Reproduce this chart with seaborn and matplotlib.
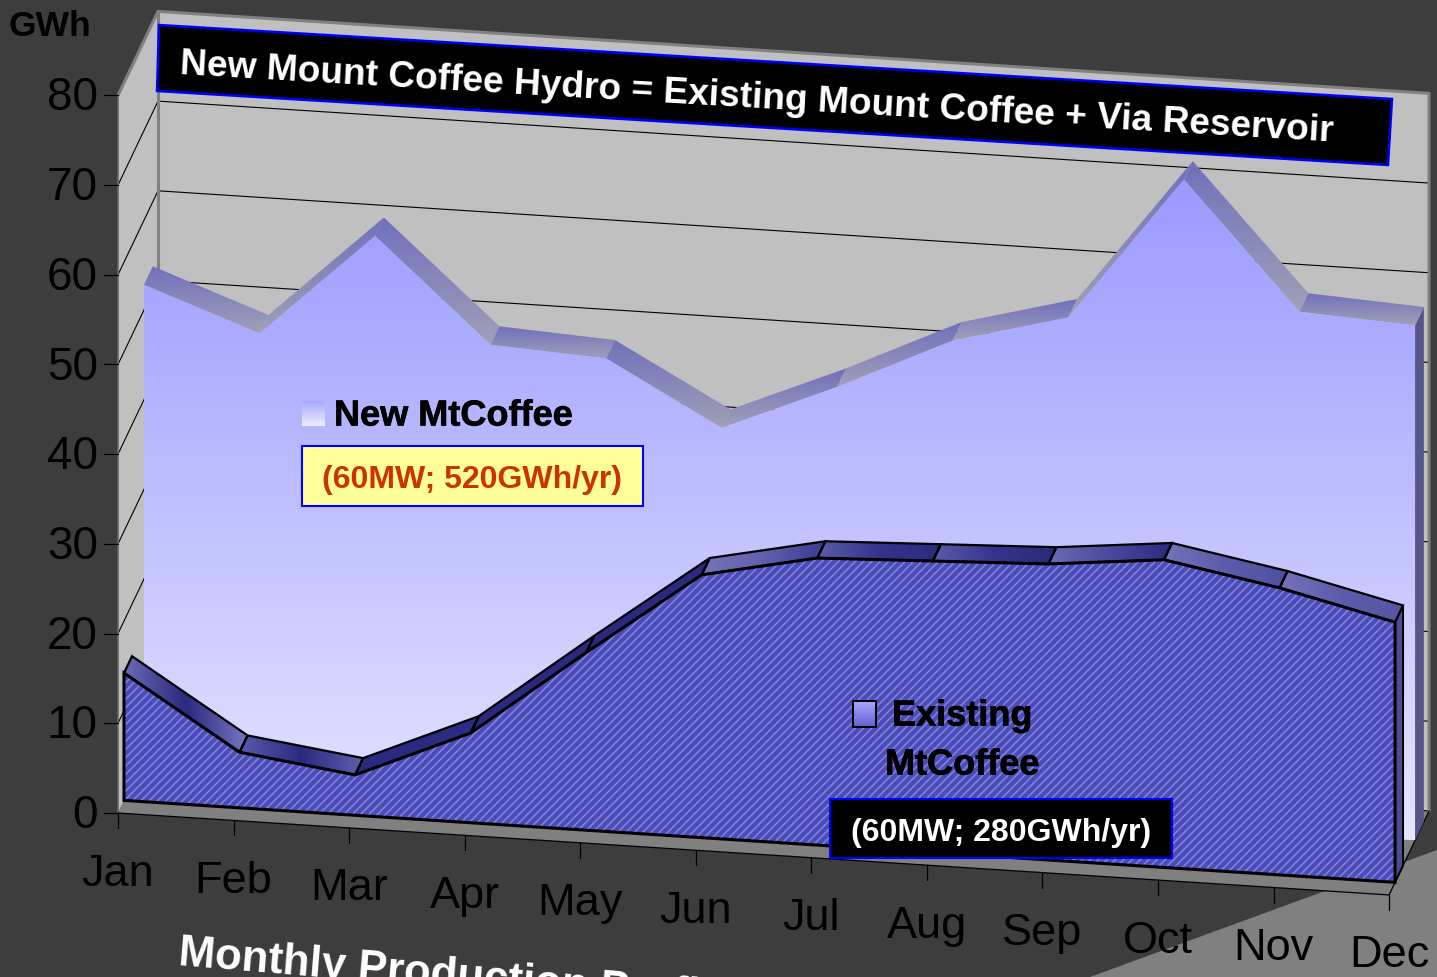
import matplotlib
matplotlib.use('Agg')
import matplotlib.pyplot as plt
import matplotlib.patheffects as pe
import numpy as np
import seaborn as sns
from matplotlib.colors import LinearSegmentedColormap
from matplotlib.patches import Polygon


MESES = ['Jan', 'Feb', 'Mar', 'Apr', 'May', 'Jun', 'Jul', 'Aug', 'Sep', 'Oct', 'Nov', 'Dec']
NUEVA = [52.8, 48.2, 59.9, 48.6, 47.9, 41.0, 46.4, 52.4, 55.8, 72.0, 58.1, 57.4]
EXISTENTE = [14.2, 6.2, 4.5, 10.0, 19.8, 29.3, 32.0, 32.5, 33.0, 34.3, 32.0, 29.0]
TICKS_Y = [0, 10, 20, 30, 40, 50, 60, 70, 80]

# profundidad de cada serie dentro de la caja 3D (0 = frente, 1 = fondo)
PROF_NUEVA = (0.65, 0.87)
PROF_EXISTENTE = (0.15, 0.35)

FONDO = '#3d3d3d'
GRIS_PARED = '#c0c0c0'
GRIS_PISO = '#808080'

# gradiente de cada tramo de la cara superior de Existing (izq -> centro -> der)
TRAMOS_EXISTENTE = [
    ('#6a6ab8', '#2a2a7e', '#7676c0'), ('#5a5aaa', '#2a2a80', '#6060b0'),
    ('#2a2a80', '#2a2a80', '#2e2e88'), ('#2a2a80', '#2a2a80', '#2a2a80'),
    ('#2a2a80', '#2a2a80', '#2a2a80'), ('#7474bc', '#6060ac', '#3a3a90'),
    ('#5c5ca8', '#34348c', '#2a2a80'), ('#5c5ca8', '#34348c', '#2a2a78'),
    ('#6a6ab4', '#4a4a9c', '#2a2a80'), ('#7272ba', '#5c5cac', '#5050a0'),
    ('#7272ba', '#5c5cac', '#5555a4'),
]


def proyectar(mes, valor, prof):
    """Pasa mes, GWh y profundidad a pixeles de la figura."""
    mes = np.asarray(mes, dtype=float)
    valor = np.asarray(valor, dtype=float)
    prof = np.asarray(prof, dtype=float)
    px = 118 + 115.55 * mes + 40 * prof
    py = 813 + 7.45 * mes - 8.97 * valor - 84 * prof
    return px, py


def cara(mes, valor, prof):
    """Vertices (x, y) de un contorno del modelo 3D."""
    px, py = proyectar(mes, valor, prof)
    return np.column_stack([px, py])


def relleno_gradiente(ax, vertices, colores, vertical=True, zorder=2):
    """Rellena un poligono con un gradiente recortado a su forma."""
    parche = Polygon(vertices, closed=True, transform=ax.transData, facecolor='none', edgecolor='none')
    ax.add_patch(parche)
    cmap = LinearSegmentedColormap.from_list('g', colores)
    rampa = np.linspace(0, 1, 256)
    rampa = rampa[:, None] if vertical else rampa[None, :]
    x0, y0 = vertices.min(axis=0)
    x1, y1 = vertices.max(axis=0)
    img = ax.imshow(rampa, cmap=cmap, extent=(x0, x1, y1, y0), origin='upper', aspect='auto',
                    zorder=zorder, interpolation='bilinear')
    img.set_clip_path(parche)


def linea(ax, x, y, color='black', lw=1.0, zorder=3):
    sns.lineplot(x=np.asarray(x), y=np.asarray(y), color=color, linewidth=lw, ax=ax, estimator=None,
                 sort=False, legend=False, zorder=zorder, errorbar=None)


def caja_3d(ax):
    """Paredes, piso, rejilla y marcas de los ejes."""
    n = len(MESES) - 1
    tope = TICKS_Y[-1]
    pared = np.vstack([cara([0, 0], [0, tope], 0), cara([0, 0], [tope, 0], 1)])
    fondo = np.vstack([cara([0, 0], [0, tope], 1), cara([n, n], [tope, 0], 1)])
    piso = np.vstack([cara([0, n], [0, 0], 0), cara([n, 0], [0, 0], 1)])
    ax.fill(*pared.T, color=GRIS_PARED, lw=0, zorder=1)
    ax.fill(*fondo.T, color=GRIS_PARED, lw=0, zorder=1)
    ax.fill(*piso.T, color=GRIS_PISO, lw=0, zorder=1)

    for v in TICKS_Y[:-1]:
        x, y = proyectar([0, n], [v, v], 1)
        linea(ax, x, y, lw=0.8, zorder=1.5)
    for v in TICKS_Y:
        xl, yl = proyectar([0, 0], [v, v], [0, 1])
        if v > 0:
            linea(ax, xl, yl, lw=0.8, zorder=1.5)
        x0, y0 = proyectar(0, v, 0)
        linea(ax, [x0 - 14, x0], [y0, y0], lw=0.9, zorder=3)
        ax.text(x0 - 20, y0 + 3, str(v), ha='right', va='center', fontsize=33, color='black', zorder=8)

    x, y = proyectar([0, 0, n, n], [tope, tope, tope, 0], [0, 1, 1, 1])
    linea(ax, x, y, color=GRIS_PISO, lw=2.2, zorder=1.6)
    x, y = proyectar([0, 0], [0, tope], 1)
    linea(ax, x, y, color=GRIS_PISO, lw=2.2, zorder=1.6)
    x, y = proyectar([0, 0], [0, tope], 0)
    linea(ax, x, y, color='#666666', lw=1.2, zorder=1.6)
    x, y = proyectar([0, n, n], [0, 0, 0], [0, 0, 1])
    linea(ax, x, y, lw=0.9, zorder=1.6)

    for i, mes in enumerate(MESES):
        x0, y0 = proyectar(i, 0, 0)
        linea(ax, [x0, x0], [y0, y0 + 15], lw=0.9, zorder=1.6)
        ax.text(x0, y0 + 61, mes, ha='center', va='center', fontsize=32.5, color='black', zorder=8)


def area_nueva(ax):
    meses = np.arange(len(MESES))
    d0, d1 = PROF_NUEVA
    n = meses[-1]
    lado = np.vstack([cara([n, n], [NUEVA[-1], NUEVA[-1]], [d0, d1]),
                      cara([n, n], [0, 0], [d1, d0])])
    ax.fill(*lado.T, color='#55558a', lw=0, zorder=2)
    for i in range(n):
        tramo = np.vstack([cara([i, i + 1], NUEVA[i:i + 2], d0),
                           cara([i + 1, i], NUEVA[i:i + 2][::-1], d1)])
        relleno_gradiente(ax, tramo, ['#7070bc', '#a0a0b8'], zorder=2.1)
    frente = np.vstack([cara(meses, NUEVA, d0), cara([n, 0], [0, 0], d0)])
    relleno_gradiente(ax, frente, ['#9a9aff', '#e6e6ff'], zorder=2.2)


def area_existente(ax):
    meses = np.arange(len(MESES))
    d0, d1 = PROF_EXISTENTE
    n = meses[-1]
    lado = np.vstack([cara([n, n], [EXISTENTE[-1], EXISTENTE[-1]], [d0, d1]),
                      cara([n, n], [0, 0], [d1, d0])])
    ax.fill(*lado.T, facecolor='#4c4c90', edgecolor='black', lw=1.4, zorder=3)
    for i in range(n):
        tramo = np.vstack([cara([i, i + 1], EXISTENTE[i:i + 2], d0),
                           cara([i + 1, i], EXISTENTE[i:i + 2][::-1], d1)])
        relleno_gradiente(ax, tramo, TRAMOS_EXISTENTE[i], vertical=False, zorder=3.1)
        ax.fill(*tramo.T, facecolor='none', edgecolor='black', lw=1.6, zorder=3.2)
    frente = np.vstack([cara(meses, EXISTENTE, d0), cara([n, 0], [0, 0], d0)])
    plt.rcParams['hatch.linewidth'] = 1.2
    ax.fill(*frente.T, facecolor='#4c4cb4', edgecolor='#7a82e6', hatch='////', lw=0, zorder=3.3)
    ax.fill(*frente.T, facecolor='none', edgecolor='black', lw=2.2, zorder=3.4)


def anotaciones(ax):
    # leyendas con un trazo fino porque en el original se ven mas gruesas
    grueso = [pe.withStroke(linewidth=0.5, foreground='black')]

    caja = [(159, 25), (1392, 99), (1388, 165), (157, 91)]
    ax.add_patch(Polygon(caja, closed=True, facecolor='black', edgecolor='#0000ff', lw=1.8, zorder=5))
    ax.text(180, 65, 'New Mount Coffee Hydro = Existing Mount Coffee + Via Reservoir', color='white',
            fontsize=26.7, fontweight='bold', rotation=-3.35, rotation_mode='anchor', ha='left', va='center',
            zorder=6)
    ax.text(8, 27, 'GWh', fontsize=25.5, fontweight='bold', color='black', ha='left', va='center', zorder=8)
    ax.text(178, 965, 'Monthly Production Profile', color='white', fontsize=31.5, fontweight='bold',
            rotation=-4.8, rotation_mode='anchor', ha='left', va='baseline', zorder=8, clip_on=False)

    relleno_gradiente(ax, np.array([(302, 401), (325, 401), (325, 426), (302, 426)], dtype=float),
                      ['#a8a8ff', '#eeeeff'], zorder=5)
    ax.text(334, 416, 'New MtCoffee', fontsize=26, fontweight='bold', color='black', va='center', zorder=6,
            path_effects=grueso)
    ax.add_patch(Polygon([(302, 446), (643, 446), (643, 506), (302, 506)], closed=True, facecolor='#ffff99',
                         edgecolor='#0000ff', lw=1.5, zorder=5))
    ax.text(472.5, 480, '(60MW; 520GWh/yr)', fontsize=23, fontweight='bold', color='#cc3300', ha='center',
            va='center', zorder=6)

    muestra = np.array([(853, 701), (876, 701), (876, 727), (853, 727)], dtype=float)
    relleno_gradiente(ax, muestra, ['#a8a8ff', '#6060d0'], zorder=5)
    ax.add_patch(Polygon(muestra, closed=True, facecolor='none', edgecolor='black', lw=1.4, zorder=5.1))
    ax.text(892, 716, 'Existing', fontsize=26, fontweight='bold', color='black', va='center', zorder=6,
            path_effects=grueso)
    ax.text(885, 765, 'MtCoffee', fontsize=26, fontweight='bold', color='black', va='center', zorder=6,
            path_effects=grueso)
    ax.add_patch(Polygon([(830, 799), (1172, 799), (1172, 858), (830, 858)], closed=True, facecolor='black',
                         edgecolor='#0000ff', lw=1.5, zorder=5))
    ax.text(1001, 833, '(60MW; 280GWh/yr)', fontsize=23, fontweight='bold', color='white', ha='center',
            va='center', zorder=6)


def main():
    sns.set_theme(style='white')
    plt.rcParams['font.family'] = ['Liberation Sans', 'DejaVu Sans']

    fig = plt.figure(figsize=(14.37, 9.77), dpi=100, facecolor=FONDO)
    ax = fig.add_axes([0, 0, 1, 1])
    ax.set_facecolor(FONDO)

    # cuña gris de la esquina inferior derecha
    ax.add_patch(Polygon([(1090, 977), (1437, 850), (1437, 977)], closed=True, facecolor=GRIS_PISO,
                         edgecolor='none', zorder=0.5))

    caja_3d(ax)
    area_nueva(ax)
    area_existente(ax)
    anotaciones(ax)

    ax.set_xlim(0, 1437)
    ax.set_ylim(977, 0)
    ax.set_axis_off()
    fig.savefig('out.png', dpi=100, facecolor=FONDO)
    plt.close(fig)


if __name__ == '__main__':
    main()
